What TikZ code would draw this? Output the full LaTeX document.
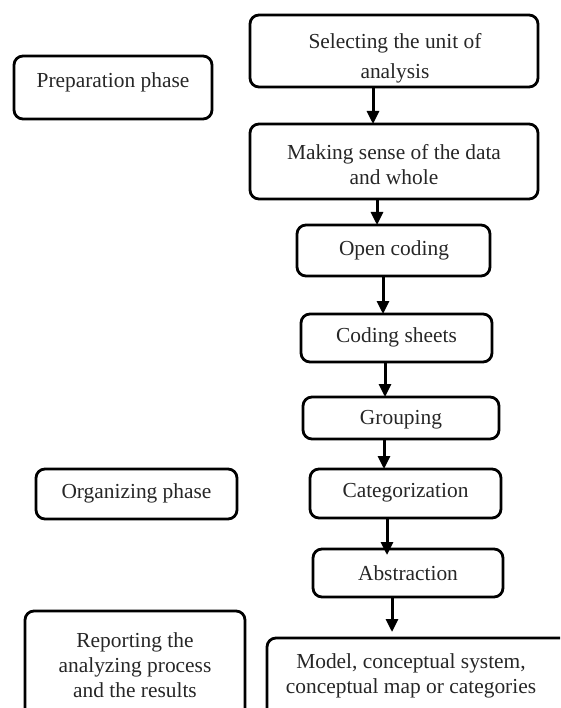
\documentclass[tikz,border=0pt]{standalone}
\usepackage{fontspec}
\setmainfont{Liberation Serif}
\usetikzlibrary{arrows.meta}
\begin{document}
\begin{tikzpicture}[x=1pt,y=-1pt,
  box/.style={draw, line width=2.8pt, rounded corners=9pt, inner sep=0pt, outer sep=0pt},
  lbl/.style={font=\fontsize{21.4pt}{25pt}\selectfont, align=center, text=black!85, inner sep=0pt},
  arr/.style={line width=3pt, -{Triangle[length=13pt,width=12pt]}}]
\useasboundingbox (0,0) rectangle (560,708);
\clip (0,0) rectangle (560,708);
% boxes
\node[box, minimum width=288pt, minimum height=72pt] (sel) at (394,51) {};
\node[box, minimum width=198pt, minimum height=63pt] (prep) at (113,87.5) {};
\node[box, minimum width=288pt, minimum height=75pt] (mk) at (394,161.5) {};
\node[box, minimum width=193pt, minimum height=51pt] (open) at (393.5,250.5) {};
\node[box, minimum width=191pt, minimum height=48pt] (cs) at (396.5,338) {};
\node[box, minimum width=196pt, minimum height=42pt] (grp) at (401,418) {};
\node[box, minimum width=201pt, minimum height=50pt] (org) at (136.5,494) {};
\node[box, minimum width=191pt, minimum height=49pt] (cat) at (405.5,493.5) {};
\node[box, minimum width=190pt, minimum height=48pt] (abs) at (408,573) {};
\node[box, minimum width=220pt, minimum height=119pt] (rep) at (135,670.5) {};
\node[box, minimum width=313pt, minimum height=92pt] (model) at (423.5,684) {};
% texts
\node[lbl] (selT) at (395,58) {Selecting the unit of\\[5pt]analysis};
\node[lbl] (prepT) at (113,82) {Preparation phase};
\node[lbl] (mkT) at (394,164.5) {Making sense of the data\\and whole};
\node[lbl] (openT) at (394,250) {Open coding};
\node[lbl] (csT) at (396.5,337) {Coding sheets};
\node[lbl] (grpT) at (401,420) {Grouping};
\node[lbl] (orgT) at (136.5,493) {Organizing phase};
\node[lbl] (catT) at (405.5,493) {Categorization};
\node[lbl] (absT) at (408,573) {Abstraction};
\node[lbl] (repT) at (135,665) {Reporting the\\analyzing process\\and the results};
\node[lbl] (modT) at (411,675.5) {Model, conceptual system,\\conceptual map or categories};
% arrow columns
\coordinate (c1) at (373,0);
\coordinate (c2) at (377,0);
\coordinate (c3) at (383,0);
\coordinate (c4) at (385,0);
\coordinate (c5) at (384,0);
\coordinate (c6) at (387,0);
\coordinate (c7) at (392,0);
\draw[arr] (sel.south -| c1) -- (mk.north -| c1);
\draw[arr] (mk.south -| c2) -- (open.north -| c2);
\draw[arr] (open.south -| c3) -- (cs.north -| c3);
\draw[arr] (cs.south -| c4) -- (grp.north -| c4);
\draw[arr] (grp.south -| c5) -- (cat.north -| c5);
\draw[arr] (cat.south -| c6) -- ([yshift=-6pt]abs.north -| c6);
\draw[arr] (abs.south -| c7) -- ([yshift=6pt]model.north -| c7);
\end{tikzpicture}
\end{document}
